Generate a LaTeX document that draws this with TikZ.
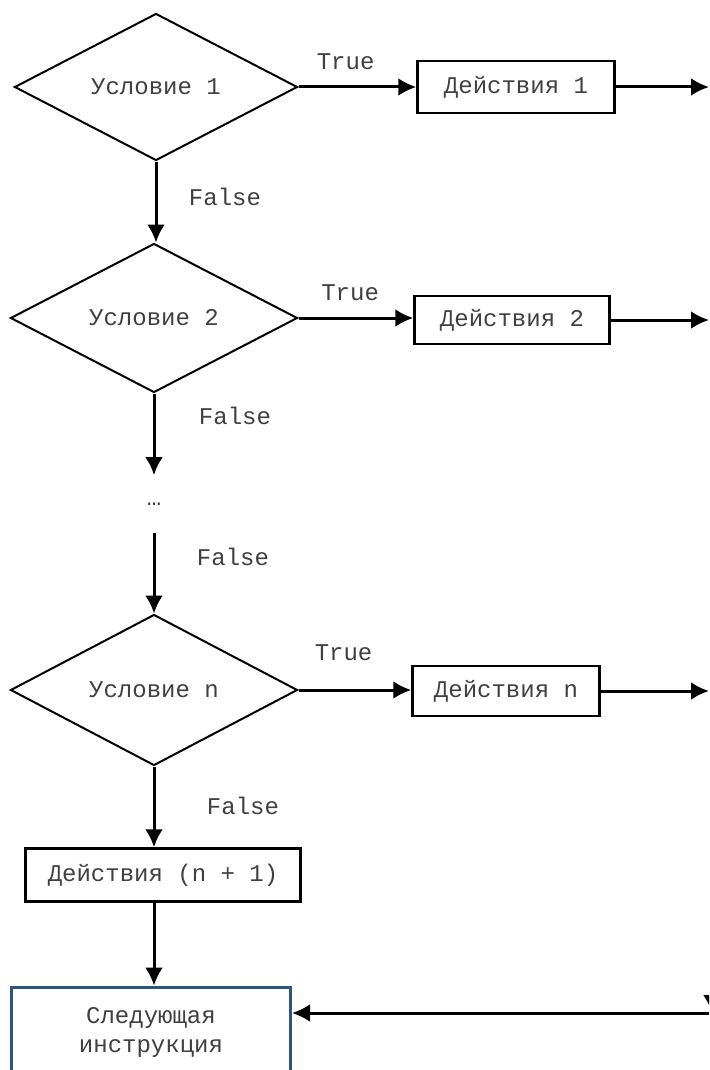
\documentclass[tikz,border=0pt]{standalone}
\usepackage{fontspec}
\setmainfont{Liberation Mono}
\usepackage{xcolor}
\usetikzlibrary{arrows.meta,shapes.geometric}
\definecolor{nextblue}{RGB}{46,84,130}
\tikzset{>={Latex[length=9pt,width=9pt]}}
\tikzset{
  cond/.style={draw,diamond,line width=1pt,inner sep=0pt,aspect=1.9,
    text=black!75,font=\fontsize{12}{14.5}\selectfont},
  act/.style={draw,rectangle,line width=1.25pt,inner sep=0pt,
    text=black!75,font=\fontsize{12}{14.5}\selectfont},
  arr/.style={->,line width=1.5pt},
  lbl/.style={inner sep=0pt,text=black!75,font=\fontsize{12}{14.5}\selectfont}
}

\begin{document}
\begin{tikzpicture}[x=0.5pt,y=-0.5pt]
  \useasboundingbox (0,0) rectangle (709,1070);
  \clip (0,0) rectangle (709,1070);
  % Conditions
  \node[cond,minimum width=141.5pt,minimum height=73.5pt] (c1) at (156,87) {Условие 1};
  \node[cond,minimum width=143.5pt,minimum height=74.5pt] (c2) at (154,318) {Условие 2};
  \node[lbl,minimum height=28.5pt] (dots) at (154,504) {…};
  \node[cond,minimum width=143.5pt,minimum height=75.5pt] (cn) at (154,690) {Условие n};
  % Actions
  \node[act,minimum width=98.5pt,minimum height=26pt] (a1) at (516,87) {Действия 1};
  \node[act,minimum width=97.5pt,minimum height=24pt] (a2) at (512,320) {Действия 2};
  \node[act,minimum width=93.5pt,minimum height=25pt] (an) at (506,691) {Действия n};
  \node[act,minimum width=137.5pt,minimum height=26.5pt] (an1) at (163,875) {Действия (n + 1)};
  \node[act,draw=nextblue,line width=1.5pt,align=center,minimum width=139.5pt,minimum height=45pt] (next) at (151,1032) {Следующая\\инструкция};
  % Ends
  \coordinate (o1) at (709,87);
  \coordinate (o2) at (709,320);
  \coordinate (on) at (709,691);
  \coordinate (r) at (709,1013);
  \coordinate (rt) at (712,975);
  % Lines
  \draw[arr] (c1.east) -- (c1.east -| a1.west) node[lbl,above=8pt,pos=0.4] (t1) {True};
  \draw[arr] (c2.east) -- (c2.east -| a2.west) node[lbl,above=8pt,pos=0.45] (t2) {True};
  \draw[arr] (cn.east) -- (cn.east -| an.west) node[lbl,above=14pt,pos=0.4] (tn) {True};
  \draw[arr] (a1.east) -- (o1);
  \draw[arr] (a2.east) -- (o2);
  \draw[arr] (an.east) -- (on);
  \draw[arr] (c1.south) -- (c1.south |- c2.north);
  \draw[arr] (c2.south) -- (dots.north);
  \draw[arr] (dots.south) -- (cn.north);
  \draw[arr] (cn.south) -- (cn.south |- an1.north);
  \draw[arr] (cn.south |- an1.south) -- (cn.south |- next.north);
  \draw[arr] (r) -- (r -| next.east);
  \draw[arr] (rt) -- (rt |- r);
  % Labels
  \node[lbl] (f1) at (225,197) {False};
  \node[lbl] (f2) at (235,416) {False};
  \node[lbl] (f3) at (233,557) {False};
  \node[lbl] (fn) at (243,806) {False};
\end{tikzpicture}
\end{document}
